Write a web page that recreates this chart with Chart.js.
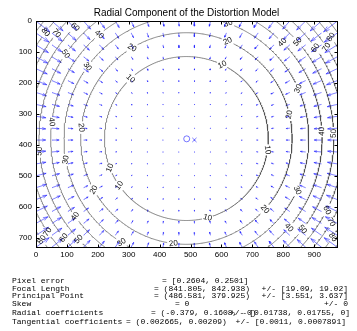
<!DOCTYPE html>
<html>
<head>
<meta charset="utf-8">
<script src="https://cdn.jsdelivr.net/npm/chart.js@4.4.1/dist/chart.umd.min.js"></script>
<style>
  html, body { margin: 0; padding: 0; background: #fff; }
  #wrap { position: relative; width: 357px; height: 331px; overflow: hidden; }
  #chart { position: absolute; left: 0; top: 0; }
  .info { position: absolute; font: 8px "Liberation Mono", "DejaVu Sans Mono", monospace; line-height: 8px; color: #000; white-space: pre; }
</style>
</head>
<body>
<div id="wrap">
  <canvas id="chart" width="357" height="331"></canvas>
  <div id="info"></div>
</div>
<script>
// ---- values ----
const imageSize = [1024, 768];
const focalLength = [841.805, 842.938];
const principalPoint = [486.581, 379.925];
const radialCoeffs = [-0.379, 0.1608, -0];
const gridSteps = 20;

const contourLevels = [10, 20, 30, 40, 50, 60, 70, 80, 90];
const contourRadii = [265, 342, 396, 439, 477, 510, 541, 571, 597];
// where clabel put the numbers on each contour (degrees, image y down)
const labelAngles = {
    10: [-133, 159, 145, -64, 8, 75],
    20: [-121, -174, 151, -67, -13, 42, 97],
    30: [-144, 170, 122, -70, -24, 25],
    40: [-130, -173, 145, -45, -3, 41],
    50: [-145, 175, 137, -41, -2, 38],
    60: [-135, 141, -35, 27],
    70: [-141, 146, -33, 30],
    80: [-143, 145, -35, 34],
    90: []
};

const xTicks = [0, 100, 200, 300, 400, 500, 600, 700, 800, 900];
const yTicks = [0, 100, 200, 300, 400, 500, 600, 700];

const infoLabels = ['Pixel error', 'Focal Length', 'Principal Point', 'Skew', 'Radial coefficients', 'Tangential coefficients'];
const infoValues = ['= [0.2604, 0.2501]', '= (841.805, 842.938)', '= (486.581, 379.925)', '= 0', '= (-0.379, 0.1608, -0)', '= (0.002665, 0.00209)'];
const infoErrors = ['', '+/- [19.09, 19.02]', '+/- [3.551, 3.637]', '+/- 0', '+/- [0.01738, 0.01755, 0]', '+/- [0.0011, 0.0007891]'];

// ---- quiver of the radial distortion on the sampling grid ----
const nx = imageSize[0], ny = imageSize[1];
const gx = [], gy = [];
for (let i = 0; i < gridSteps; i++) gx.push(i * nx / gridSteps);
for (let j = 0; j < gridSteps; j++) gy.push(j * ny / gridSteps);

const vectors = [];
gy.forEach(py => gx.forEach(px => {
    const x = (px - principalPoint[0]) / focalLength[0];
    const y = (py - principalPoint[1]) / focalLength[1];
    const r2 = x * x + y * y;
    const f = radialCoeffs[0] * r2 + radialCoeffs[1] * r2 * r2 + radialCoeffs[2] * r2 * r2 * r2;
    vectors.push({ x: px + 1, y: py + 1, u: focalLength[0] * x * f, v: focalLength[1] * y * f });
}));

// matlab quiver autoscale
const delx = (gx[gx.length - 1] - gx[0]) / gridSteps;
const dely = (gy[gy.length - 1] - gy[0]) / gridSteps;
const del = delx * delx + dely * dely;
const maxLen = Math.max(...vectors.map(a => Math.sqrt((a.u * a.u + a.v * a.v) / del)));
const scale = 0.9 / maxLen;

const arrowPoints = [];
const alpha = 0.33, beta = 0.33;
vectors.forEach(a => {
    const u = a.u * scale, v = a.v * scale;
    const tx = a.x + u, ty = a.y + v;
    arrowPoints.push({ x: a.x, y: a.y }, { x: tx, y: ty }, { x: tx, y: null });
    arrowPoints.push(
        { x: tx - alpha * (u + beta * v), y: ty - alpha * (v - beta * u) },
        { x: tx, y: ty },
        { x: tx - alpha * (u - beta * v), y: ty - alpha * (v + beta * u) },
        { x: tx, y: null }
    );
});

// ---- contour circles, broken where the labels sit ----
function contourPoints(level, r) {
    const pts = [];
    const halfGap = (18 / r) * 180 / Math.PI;
    const angles = labelAngles[level] || [];
    for (let d = -180; d <= 180; d += 0.5) {
        const near = angles.some(a => {
            let diff = Math.abs(d - a) % 360;
            if (diff > 180) diff = 360 - diff;
            return diff < halfGap;
        });
        const t = d * Math.PI / 180;
        const px = principalPoint[0] + r * Math.cos(t);
        pts.push({ x: px, y: near ? null : principalPoint[1] + r * Math.sin(t) });
    }
    return pts;
}

const contourSets = contourLevels.map((lvl, i) => ({
    data: contourPoints(lvl, contourRadii[i]),
    showLine: true,
    borderColor: 'rgba(60,60,60,0.75)',
    borderWidth: 0.8,
    pointRadius: 0,
    spanGaps: false
}));

// ---- plugins ----
const contourLabels = {
    id: 'contourLabels',
    afterDatasetsDraw(chart) {
        const { ctx, chartArea: a, scales: { x, y } } = chart;
        ctx.save();
        ctx.beginPath();
        ctx.rect(a.left, a.top, a.right - a.left, a.bottom - a.top);
        ctx.clip();
        ctx.font = '8px "Liberation Sans", Arial, sans-serif';
        ctx.fillStyle = '#111';
        ctx.textAlign = 'center';
        ctx.textBaseline = 'middle';
        contourLevels.forEach((lvl, i) => {
            (labelAngles[lvl] || []).forEach(deg => {
                const t = deg * Math.PI / 180;
                const px = x.getPixelForValue(principalPoint[0] + contourRadii[i] * Math.cos(t));
                const py = y.getPixelForValue(principalPoint[1] + contourRadii[i] * Math.sin(t));
                // axis ij flips the clabel rotation
                let rot = -(deg + 90);
                while (rot > 90) rot -= 180;
                while (rot <= -90) rot += 180;
                ctx.save();
                ctx.translate(px, py);
                ctx.rotate(rot * Math.PI / 180);
                ctx.fillText(String(lvl), 0, 0);
                ctx.restore();
            });
        });
        ctx.restore();
    }
};

const frame = {
    id: 'frame',
    afterDraw(chart) {
        const { ctx, chartArea: a, scales: { x, y } } = chart;
        const l = Math.round(a.left) + 0.5, r = Math.round(a.right) + 0.5;
        const t = Math.round(a.top) + 0.5, b = Math.round(a.bottom) + 0.5;
        const tick = 3;
        ctx.save();
        ctx.strokeStyle = '#000';
        ctx.lineWidth = 1;
        ctx.strokeRect(l, t, r - l, b - t);
        ctx.beginPath();
        xTicks.forEach(v => {
            const px = Math.round(x.getPixelForValue(v)) + 0.5;
            ctx.moveTo(px, b); ctx.lineTo(px, b - tick);
            ctx.moveTo(px, t); ctx.lineTo(px, t + tick);
        });
        yTicks.forEach(v => {
            const py = Math.round(y.getPixelForValue(v)) + 0.5;
            ctx.moveTo(l, py); ctx.lineTo(l + tick, py);
            ctx.moveTo(r, py); ctx.lineTo(r - tick, py);
        });
        ctx.stroke();
        ctx.restore();
    }
};

const tickFont = { family: '"Liberation Sans", Arial, sans-serif', size: 8 };

new Chart(document.getElementById('chart'), {
    type: 'scatter',
    data: {
        datasets: [
            ...contourSets,
            {
                data: [{ x: principalPoint[0] + 1, y: principalPoint[1] + 1 }],
                pointStyle: 'circle',
                pointRadius: 3,
                borderColor: 'rgba(60,60,255,0.7)',
                backgroundColor: 'rgba(0,0,0,0)',
                borderWidth: 1
            },
            {
                data: [{ x: (nx - 1) / 2 + 1, y: (ny - 1) / 2 + 1 }],
                pointStyle: 'crossRot',
                pointRadius: 3,
                borderColor: 'rgba(60,60,255,0.7)',
                borderWidth: 1
            },
            {
                data: arrowPoints,
                showLine: true,
                borderColor: 'rgba(30,30,255,0.55)',
                borderWidth: 1,
                borderCapStyle: 'round',
                pointRadius: 0,
                spanGaps: false
            }
        ]
    },
    options: {
        responsive: false,
        animation: false,
        devicePixelRatio: 1,
        layout: { padding: { left: 0, top: 0, right: 20, bottom: 0 } },
        plugins: {
            legend: { display: false },
            tooltip: { enabled: false },
            title: {
                display: true,
                fullSize: false,
                text: 'Radial Component of the Distortion Model',
                color: '#000',
                font: { family: '"Liberation Sans", Arial, sans-serif', size: 10, weight: 'normal' },
                padding: { top: 7, bottom: 2 }
            }
        },
        scales: {
            x: {
                type: 'linear',
                min: 0,
                max: gx[gx.length - 1] + 1,
                grid: { display: false, drawTicks: false, tickLength: 0 },
                border: { display: false },
                ticks: { stepSize: 100, includeBounds: false, autoSkip: false, maxRotation: 0, padding: 3, color: '#000', font: tickFont },
                afterFit: s => { s.height = 84; }
            },
            y: {
                type: 'linear',
                reverse: true,
                min: 0,
                max: gy[gy.length - 1] + 1,
                grid: { display: false, drawTicks: false, tickLength: 0 },
                border: { display: false },
                ticks: { stepSize: 100, includeBounds: false, autoSkip: false, padding: 4, color: '#000', font: tickFont },
                afterFit: s => { s.width = 36; }
            }
        }
    },
    plugins: [contourLabels, frame]
});

// ---- parameter text under the plot ----
const lineY = [281, 289, 296, 303.5, 313, 322];
const valueX = [162, 154, 154, 175, 151, 126];
const errorRight = [348, 348, 348, 348, 350, 346];
const info = document.getElementById('info');
function addText(txt, top, left, right) {
    if (!txt) return;
    const d = document.createElement('div');
    d.className = 'info';
    d.textContent = txt;
    d.style.top = (top - 4) + 'px';
    if (right !== undefined) d.style.right = (357 - right) + 'px';
    else d.style.left = left + 'px';
    info.appendChild(d);
}
infoLabels.forEach((lbl, i) => {
    addText(lbl, lineY[i], 12);
    addText(infoValues[i], lineY[i], valueX[i]);
    addText(infoErrors[i], lineY[i], 0, errorRight[i]);
});
</script>
</body>
</html>
